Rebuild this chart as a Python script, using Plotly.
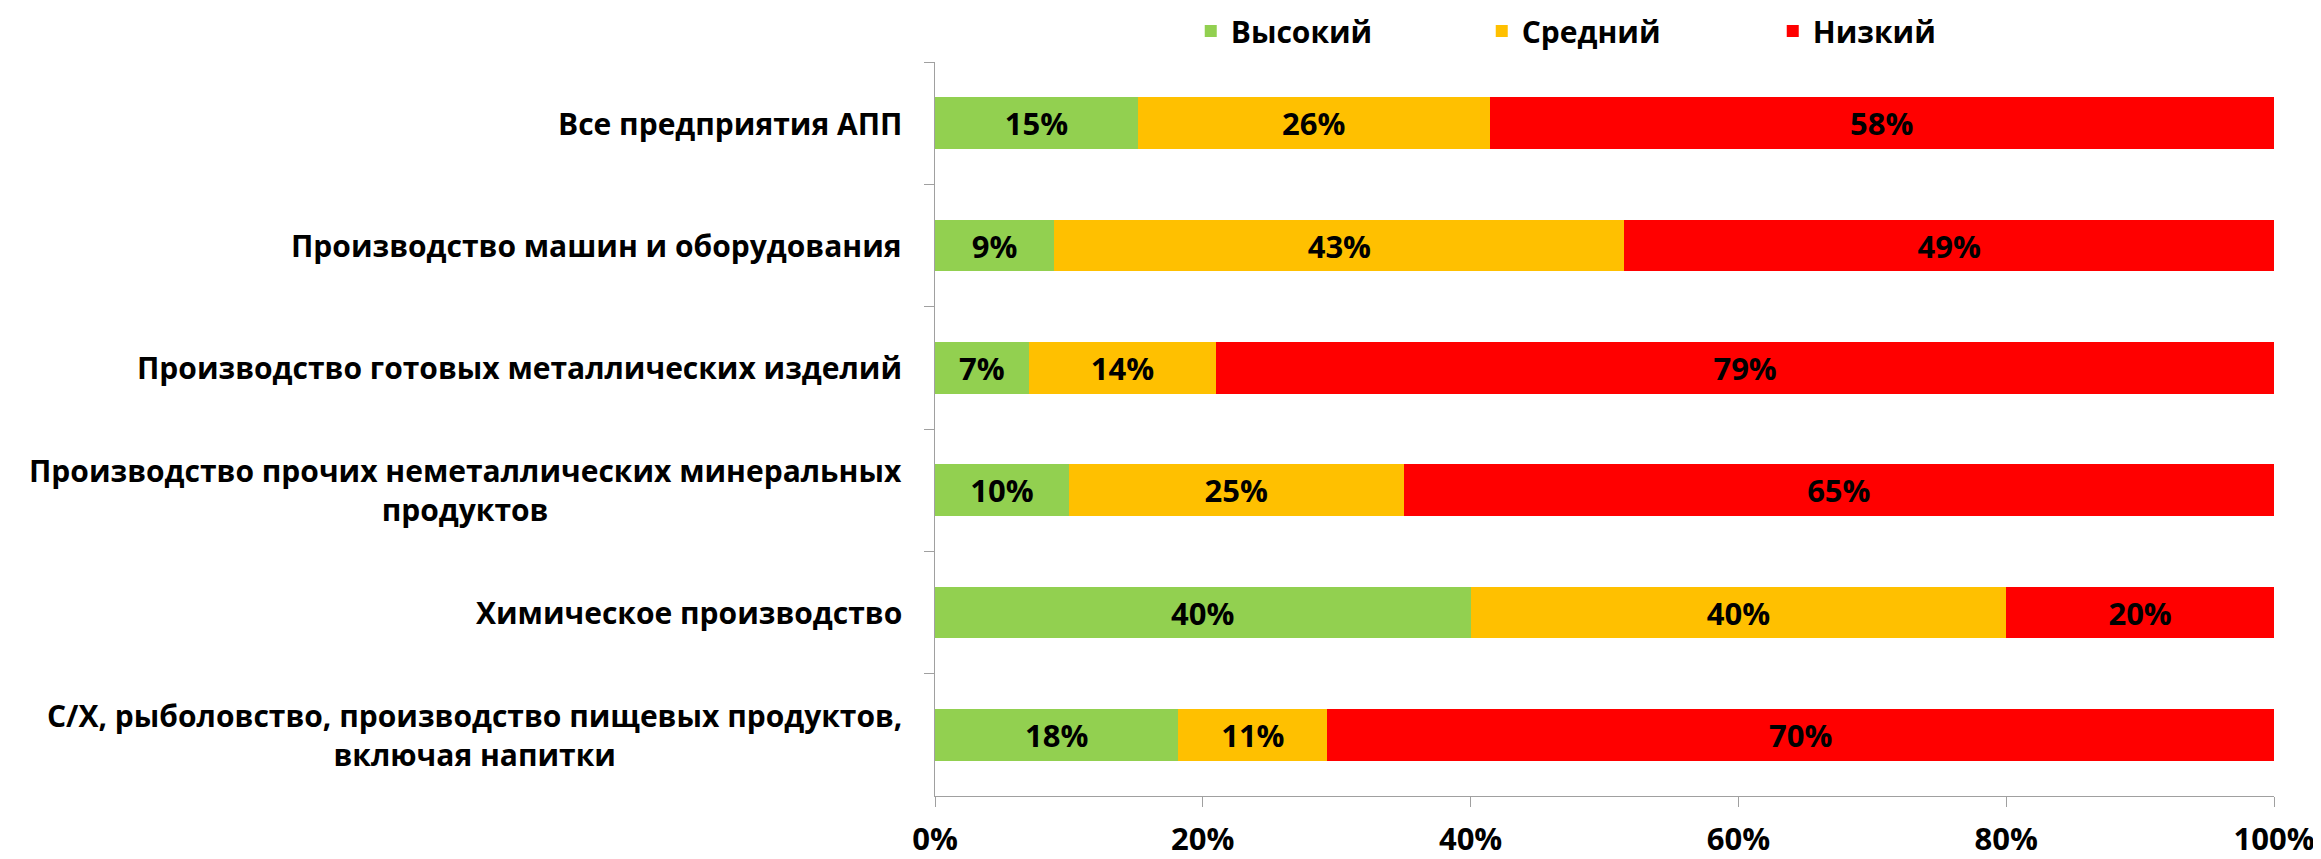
import plotly.graph_objects as go

categories = [
    "Все предприятия АПП",
    "Производство машин и оборудования",
    "Производство готовых металлических изделий",
    "Производство прочих неметаллических минеральных<br>продуктов",
    "Химическое производство",
    "С/Х, рыболовство, производство пищевых продуктов,<br>включая напитки",
]
high = [15, 9, 7, 10, 40, 18]
medium = [26, 43, 14, 25, 40, 11]
low = [58, 49, 79, 65, 20, 70]
series_names = ["Высокий", "Средний", "Низкий"]
series_colors = ["#92D050", "#FFC000", "#FF0000"]
x_tickvals = [0, 20, 40, 60, 80, 100]
x_ticktext = ["0%", "20%", "40%", "60%", "80%", "100%"]

FONT = "Open Sans"
FS = 31
LABEL_FS = 30
W, H = 2313, 851

fig = go.Figure()
for name, vals, col in zip(series_names, [high, medium, low], series_colors):
    fig.add_trace(go.Bar(
        y=categories, x=vals, name=name, orientation="h",
        marker=dict(color=col, line=dict(width=0)),
        text=[f"{v}%" for v in vals],
        textposition="inside", insidetextanchor="middle",
        textfont=dict(family=FONT, size=FS, color="black", weight="bold"),
        constraintext="none",
    ))

for cat in categories:
    fig.add_annotation(
        x=0, xref="paper", y=cat, yref="y", text=cat, showarrow=False,
        xanchor="right", yanchor="middle", align="center", xshift=-31,
        font=dict(family=FONT, size=LABEL_FS, color="black", weight="bold"),
    )

fig.update_layout(
    width=W, height=H,
    barmode="stack", barnorm="percent", bargap=0.58,
    plot_bgcolor="white", paper_bgcolor="white",
    margin=dict(l=927, r=47, t=54, b=63, autoexpand=False),
    font=dict(family=FONT, size=FS, color="black", weight="bold"),
    legend=dict(
        orientation="h", x=0.191, xanchor="left",
        yref="container", y=1 - 23 / H, yanchor="middle",
        font=dict(family=FONT, size=30, color="black", weight="bold"),
        entrywidth=246, entrywidthmode="pixels", traceorder="normal",
    ),
    xaxis=dict(
        range=[0, 100], tickvals=x_tickvals, ticktext=x_ticktext, automargin=False,
        showgrid=False, zeroline=False, showline=True, linecolor="#A0A0A0", linewidth=1,
        ticks="outside", ticklen=10, tickcolor="#A0A0A0", ticklabelstandoff=6,
        tickfont=dict(family=FONT, size=FS, color="black", weight="bold"),
    ),
    yaxis=dict(
        autorange="reversed", showticklabels=False, showgrid=False, zeroline=False,
        automargin=False,
        showline=True, linecolor="#A0A0A0", linewidth=1,
        ticks="outside", ticklen=10, tickcolor="#A0A0A0", tickson="boundaries",
    ),
)

fig.write_html("out.html")
